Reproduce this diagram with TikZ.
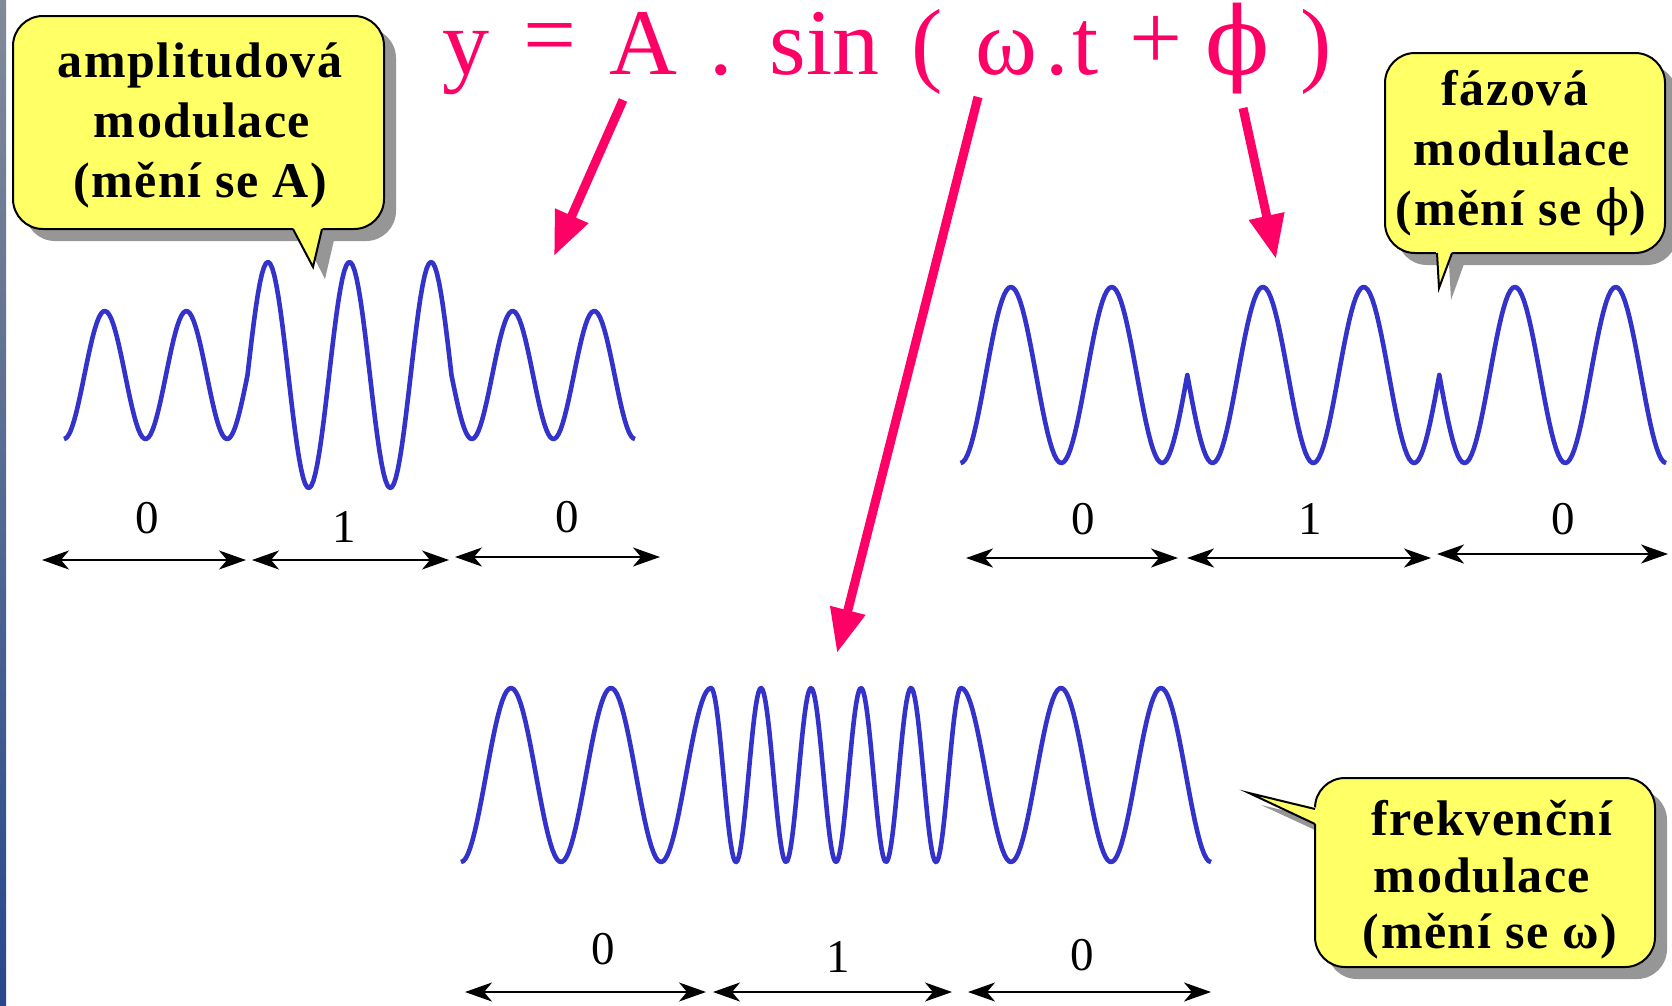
\documentclass[tikz,border=0pt]{standalone}
\usepackage{fontspec}
\setmainfont{Liberation Serif}
\newfontfamily\callfont[LetterSpace=3]{Liberation Serif Bold}
\newfontfamily\greekfont{DejaVu Serif}
\usetikzlibrary{arrows.meta}
\definecolor{eqpink}{RGB}{255,0,102}
\definecolor{waveblue}{RGB}{51,51,204}
\definecolor{callyellow}{RGB}{255,255,102}
\definecolor{shadowgray}{RGB}{150,150,150}
\definecolor{stripetop}{RGB}{128,138,152}
\definecolor{stripebot}{RGB}{40,72,140}
\begin{document}
\begin{tikzpicture}[x=1bp,y=-1bp,
  wave/.style={draw=waveblue,line width=4.6bp,line join=round},
  eqglyph/.style={text=eqpink,inner sep=0pt,anchor=base,font=\fontsize{94bp}{100bp}\selectfont},
  calltext/.style={inner sep=0pt,anchor=base,font=\callfont\fontsize{50bp}{60bp}\selectfont},
  bitlabel/.style={inner sep=0pt,font=\fontsize{47bp}{50bp}\selectfont},
  bitarrow/.style={draw=black,line width=2.2bp,{Stealth[length=27bp,width=19bp,inset=8bp]}-{Stealth[length=27bp,width=19bp,inset=8bp]}},
  pinkarrow/.style={draw=eqpink,line width=9bp,-{Triangle[length=44bp,width=34bp]}},
  callbox/.style={fill=callyellow,draw=black,line width=2bp,rounded corners=30bp},
  calltail/.style={fill=callyellow},
  tailedge/.style={draw=black,line width=2bp,line join=miter},
  callshadow/.style={fill=shadowgray},
]
\useasboundingbox (0,0) rectangle (1672,1005);
\fill[white] (0,0) rectangle (1672,1005);
\shade[top color=stripetop,bottom color=stripebot] (0,0) rectangle (6,1005);

% ---------- equation ----------
\node[eqglyph] (eqy) at (466,74) {y};
\node[eqglyph] (eqeq) at (549.5,66) {=};
\node[eqglyph] (eqA) at (643.5,74) {A};
\node[eqglyph] (eqdota) at (721.5,74) {.};
\node[eqglyph] (eqsin) at (824.5,74) {sin};
\node[eqglyph] (eqlp) at (927.5,74) {(};
\node[eqglyph] (eqw) at (1006.5,74) {ω};
\node[eqglyph] (eqdotb) at (1057,74) {.};
\node[eqglyph] (eqt) at (1086,74) {t};
\node[eqglyph] (eqplus) at (1156,69) {+};
\node[eqglyph] (eqphi) at (1238,74) {\greekfont ϕ};
\node[eqglyph] (eqrp) at (1316,74) {)};

% ---------- waves ----------
\draw[wave] plot[domain=64:247.5,samples=90] (\x,{375+64*cos((\x-64)*4.41338)})
  -- plot[domain=247.5:451.4,samples=100] (\x,{375+113*cos((\x-64)*4.41338)})
  -- plot[domain=451.4:635,samples=90] (\x,{375+64*cos((\x-64)*4.41338)});
\draw[wave] plot[domain=960.5:1187.3,samples=100] (\x,{375+88*cos((\x-960.5)*3.5714)})
  -- plot[domain=1187.3:1439.3,samples=110] (\x,{375-88*cos((\x-960.5)*3.5714)})
  -- plot[domain=1439.3:1666.1,samples=100] (\x,{375+88*cos((\x-960.5)*3.5714)});
\draw[wave] plot[domain=461:711,samples=110] (\x,{775+87*cos((\x-461)*3.6)})
  -- plot[domain=711:961,samples=180] (\x,{775-87*cos((\x-711)*7.2)})
  -- plot[domain=961:1211,samples=110] (\x,{775-87*cos((\x-961)*3.6)});

% ---------- bit labels and arrows ----------
\node[bitlabel] (amz1) at (147,518) {0};
\node[bitlabel] (amo) at (344,527) {1};
\node[bitlabel] (amz2) at (567,517) {0};
\node[bitlabel] (pmz1) at (1083,519) {0};
\node[bitlabel] (pmo) at (1310,519) {1};
\node[bitlabel] (pmz2) at (1563,519) {0};
\node[bitlabel] (fmz1) at (603,949) {0};
\node[bitlabel] (fmo) at (838,957) {1};
\node[bitlabel] (fmz2) at (1082,955) {0};

\coordinate (a1l) at (42,560);  \coordinate (a1r) at (246,560);
\coordinate (a2l) at (252,560); \coordinate (a2r) at (449,560);
\coordinate (a3l) at (455,557); \coordinate (a3r) at (660,557);
\coordinate (p1l) at (966,558); \coordinate (p1r) at (1178,558);
\coordinate (p2l) at (1187,558); \coordinate (p2r) at (1431,558);
\coordinate (p3l) at (1437,554); \coordinate (p3r) at (1668,554);
\coordinate (f1l) at (465,992); \coordinate (f1r) at (706,992);
\coordinate (f2l) at (713,992); \coordinate (f2r) at (952,992);
\coordinate (f3l) at (968,992); \coordinate (f3r) at (1211,992);
\foreach \a/\b in {a1l/a1r,a2l/a2r,a3l/a3r,p1l/p1r,p2l/p2r,p3l/p3r,f1l/f1r,f2l/f2r,f3l/f3r}
  \draw[bitarrow] (\a) -- (\b);

% ---------- callouts ----------
% amplitude callout
\begin{scope}[shift={(12,12)}]
  \fill[callshadow,rounded corners=30bp] (13,16) rectangle (384,229);
  \fill[callshadow] (293,228) -- (313,267) -- (322,228) -- cycle;
\end{scope}
\path[callbox] (13,16) rectangle (384,229);
\fill[calltail] (292,226) -- (313,267) -- (323,226) -- cycle;
\draw[tailedge] (293,229) -- (313,267) -- (322,229);
\node[calltext] (am1) at (200,77) {amplitudová};
\node[calltext] (am2) at (202,137) {modulace};
\node[calltext] (am3) at (200,197) {(mění se A)};

% phase callout
\begin{scope}[shift={(12,12)}]
  \fill[callshadow,rounded corners=30bp] (1385,53) rectangle (1665,253);
  \fill[callshadow] (1437,252) -- (1439,288) -- (1452,252) -- cycle;
\end{scope}
\path[callbox] (1385,53) rectangle (1665,253);
\fill[calltail] (1436,250) -- (1439,288) -- (1453,250) -- cycle;
\draw[tailedge] (1437,253) -- (1439,288) -- (1452,253);
\node[calltext] (pm1) at (1515,105) {fázová};
\node[calltext] (pm2) at (1522,165) {modulace};
\node[calltext] (pm3) at (1521,225) {(mění se {\greekfont ϕ})};

% frequency callout
\begin{scope}[shift={(12,12)}]
  \fill[callshadow,rounded corners=30bp] (1315,778) rectangle (1655,967);
  \fill[callshadow] (1316,809) -- (1249,793) -- (1316,824) -- cycle;
\end{scope}
\path[callbox] (1315,778) rectangle (1655,967);
\fill[calltail] (1318,808) -- (1249,793) -- (1318,825) -- cycle;
\draw[tailedge] (1315,809) -- (1249,793) -- (1315,824);
\node[calltext] (fm1) at (1492,835) {frekvenční};
\node[calltext] (fm2) at (1482,892) {modulace};
\node[calltext] (fm3) at (1490,948) {(mění se ω)};

% ---------- pink arrows ----------
\coordinate (pa1s) at (623,100); \coordinate (pa1e) at (554,256);
\coordinate (pa2s) at (978,97);  \coordinate (pa2e) at (837,653);
\coordinate (pa3s) at (1243,108); \coordinate (pa3e) at (1276,259);
\draw[pinkarrow] (pa1s) -- (pa1e);
\draw[pinkarrow] (pa2s) -- (pa2e);
\draw[pinkarrow] (pa3s) -- (pa3e);
\end{tikzpicture}
\end{document}
